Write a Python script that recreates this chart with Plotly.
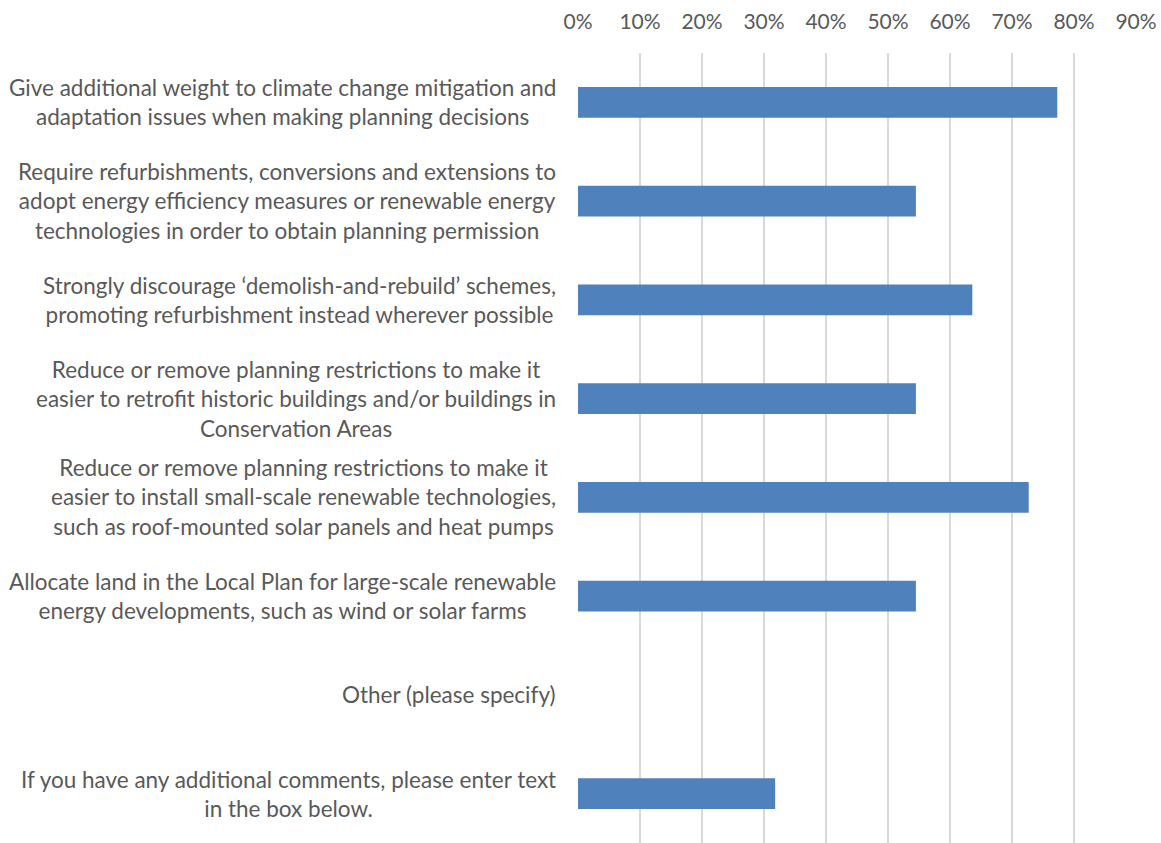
import plotly.graph_objects as go

# Survey options (top to bottom) and share of respondents selecting each
categories = [
    "Give additional weight to climate change mitigation and<br>adaptation issues when making planning decisions",
    "Require refurbishments, conversions and extensions to<br>adopt energy efficiency measures or renewable energy<br>technologies in order to obtain planning permission",
    "Strongly discourage ‘demolish-and-rebuild’ schemes,<br>promoting refurbishment instead wherever possible",
    "Reduce or remove planning restrictions to make it<br>easier to retrofit historic buildings and/or buildings in<br>Conservation Areas",
    "Reduce or remove planning restrictions to make it<br>easier to install small-scale renewable technologies,<br>such as roof-mounted solar panels and heat pumps",
    "Allocate land in the Local Plan for large-scale renewable<br>energy developments, such as wind or solar farms",
    "Other (please specify)",
    "If you have any additional comments, please enter text<br>in the box below.",
]
shares = [0.773, 0.545, 0.636, 0.545, 0.727, 0.545, 0.0, 0.318]

tick_values = [0.0, 0.1, 0.2, 0.3, 0.4, 0.5, 0.6, 0.7, 0.8, 0.9]
tick_labels = ["0%", "10%", "20%", "30%", "40%", "50%", "60%", "70%", "80%", "90%"]

FONT = "Lato, 'Open Sans', sans-serif"
TEXT_COLOR = "#595959"
BAR_COLOR = "#4f81bd"

fig = go.Figure(
    go.Bar(
        x=shares,
        y=categories,
        orientation="h",
        marker=dict(color=BAR_COLOR, line=dict(width=0)),
        width=0.31,
        hoverinfo="x+y",
    )
)

# Category labels: centred multi-line blocks right-aligned against the plot
for cat in categories:
    fig.add_annotation(
        x=0,
        xref="paper",
        y=cat,
        yref="y",
        text=cat,
        showarrow=False,
        xanchor="right",
        yanchor="middle",
        align="center",
        xshift=-20,
        font=dict(family=FONT, size=22.5, color=TEXT_COLOR),
    )

fig.update_layout(
    width=1161,
    height=843,
    margin=dict(l=578, r=25, t=53, b=0),
    paper_bgcolor="white",
    plot_bgcolor="white",
    showlegend=False,
    bargap=0.69,
    font=dict(family=FONT, size=21, color=TEXT_COLOR),
)

fig.update_xaxes(
    side="top",
    range=[0, 0.9],
    tickvals=tick_values,
    ticktext=tick_labels,
    showgrid=True,
    gridcolor="#d9d9d9",
    gridwidth=2,
    zeroline=False,
    showline=False,
    ticks="",
    ticklabelstandoff=19,
    tickfont=dict(family=FONT, size=21, color=TEXT_COLOR),
)

fig.update_yaxes(
    categoryorder="array",
    categoryarray=categories,
    autorange="reversed",
    showticklabels=False,
    showgrid=False,
    zeroline=False,
    showline=False,
    ticks="",
)

fig.write_html("out.html")
